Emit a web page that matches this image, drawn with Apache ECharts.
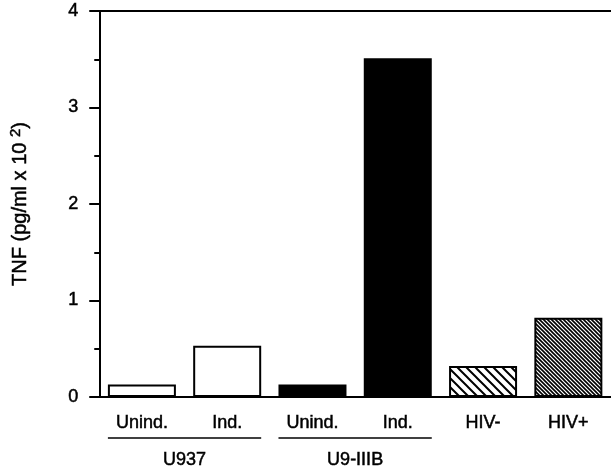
<!DOCTYPE html>
<html>
<head>
<meta charset="utf-8">
<script src="https://cdn.jsdelivr.net/npm/echarts@6/dist/echarts.min.js"></script>
<style>
  html, body { margin: 0; padding: 0; background: #fff; }
  #chart { width: 611px; height: 471px; }
</style>
</head>
<body>
<div id="chart"></div>
<script>
  const categories = ["Unind.", "Ind.", "Unind.", "Ind.", "HIV-", "HIV+"];
  const tnfValues = [0.13, 0.53, 0.13, 3.51, 0.32, 0.82];
  const groups = [
    { name: "U937", from: 0, to: 1 },
    { name: "U9-IIIB", from: 2, to: 3 }
  ];
  const yTicks = [0, 1, 2, 3, 4];

  const font = "'Liberation Sans', Arial, sans-serif";
  // scanned type looks heavier than plain regular
  const heavy = { textBorderColor: "#000", textBorderWidth: 0.5 };

  // hatch tiles for the HIV bars
  function hatch(step, lw) {
    const c = document.createElement("canvas");
    c.width = step;
    c.height = step;
    const ctx = c.getContext("2d");
    ctx.fillStyle = "#fff";
    ctx.fillRect(0, 0, step, step);
    ctx.strokeStyle = "#000";
    ctx.lineWidth = lw;
    ctx.beginPath();
    ctx.moveTo(-1, -1);
    ctx.lineTo(step + 1, step + 1);
    ctx.moveTo(-1, step - 1);
    ctx.lineTo(1, step + 1);
    ctx.moveTo(step - 1, -1);
    ctx.lineTo(step + 1, 1);
    ctx.stroke();
    return c;
  }

  const fills = [
    "#fff", "#fff", "#000", "#000",
    { image: hatch(9, 2), repeat: "repeat" },
    { image: hatch(4, 1.6), repeat: "repeat" }
  ];

  const chart = echarts.init(document.getElementById("chart"));
  const barWidth = 68;

  chart.setOption({
    animation: false,
    grid: { left: 97, right: 0, top: 11, bottom: 74 },
    xAxis: [
      {
        type: "category",
        data: categories,
        axisLine: { lineStyle: { color: "#000", width: 2 } },
        axisTick: { show: false },
        axisLabel: Object.assign({ color: "#000", fontSize: 18, fontFamily: font, margin: 17 }, heavy)
      },
      {
        type: "category",
        position: "top",
        data: categories,
        axisLine: { show: true, lineStyle: { color: "#000", width: 2 } },
        axisTick: { show: false },
        axisLabel: { show: false }
      }
    ],
    yAxis: {
      type: "value",
      min: 0,
      max: 4,
      interval: 1,
      name: "{a|TNF (pg/ml x 10 }{s|2}{a|)}",
      nameLocation: "middle",
      nameGap: 66,
      nameRotate: 90,
      nameTextStyle: {
        rich: {
          a: Object.assign({ fontSize: 20, fontFamily: font, color: "#000" }, heavy),
          s: Object.assign({ fontSize: 15, fontFamily: font, color: "#000", verticalAlign: "top", padding: [0, 0, 10, 0] }, heavy)
        }
      },
      splitLine: { show: false },
      axisLine: { show: true, lineStyle: { color: "#000", width: 2 } },
      axisTick: { show: true, length: 10, lineStyle: { color: "#000", width: 2 } },
      minorTick: { show: true, splitNumber: 2, length: 5, lineStyle: { color: "#000", width: 2 } },
      axisLabel: Object.assign({
        color: "#000",
        fontSize: 18,
        fontFamily: font,
        margin: 21,
        formatter: (v) => (yTicks.includes(v) ? String(v) : "")
      }, heavy)
    },
    series: [
      {
        type: "bar",
        barWidth: barWidth,
        data: tnfValues.map((v, i) => ({
          value: v,
          itemStyle: { color: fills[i], borderColor: "#000", borderWidth: 2 }
        }))
      }
    ]
  });

  // group brackets under the category labels
  const y0 = chart.convertToPixel({ yAxisIndex: 0 }, 0);
  const elements = [];
  groups.forEach((g) => {
    const x1 = chart.convertToPixel({ xAxisIndex: 0 }, g.from) - barWidth / 2;
    const x2 = chart.convertToPixel({ xAxisIndex: 0 }, g.to) + barWidth / 2;
    elements.push({
      type: "line",
      shape: { x1: x1, y1: y0 + 41, x2: x2, y2: y0 + 41 },
      style: { stroke: "#000", lineWidth: 1.5 }
    });
    elements.push({
      type: "text",
      x: (x1 + x2) / 2,
      y: y0 + 63,
      style: Object.assign({
        text: g.name,
        fill: "#000",
        font: "18px " + font,
        align: "center",
        verticalAlign: "middle",
        stroke: "#000",
        lineWidth: 0.5
      })
    });
  });
  chart.setOption({ graphic: elements });
</script>
</body>
</html>
